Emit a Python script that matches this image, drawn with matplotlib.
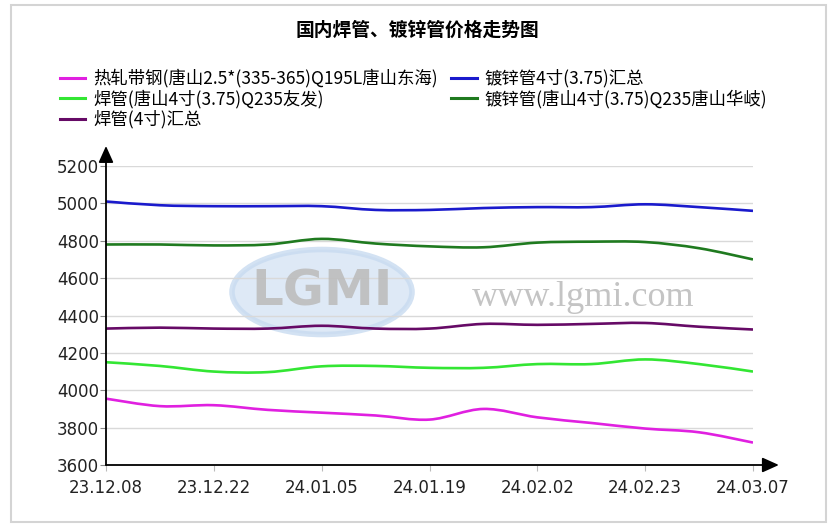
import matplotlib
matplotlib.use("Agg")
import matplotlib.pyplot as plt
from matplotlib.path import Path
from matplotlib.patches import PathPatch, Rectangle, Ellipse
from matplotlib.lines import Line2D

plt.rcParams['font.family'] = ['Noto Sans CJK SC', 'DejaVu Sans']

dates = ['23.12.08', '23.12.15', '23.12.22', '23.12.29', '24.01.05', '24.01.12',
         '24.01.19', '24.01.26', '24.02.02', '24.02.09', '24.02.23', '24.03.01', '24.03.07']
shown = ['23.12.08', '23.12.22', '24.01.05', '24.01.19', '24.02.02', '24.02.23', '24.03.07']

rezha = [3955, 3915, 3920, 3895, 3880, 3865, 3843, 3900, 3855, 3825, 3795, 3775, 3720]
hanguan_ts = [4150, 4130, 4100, 4097, 4128, 4130, 4120, 4120, 4140, 4140, 4165, 4140, 4100]
hanguan_all = [4330, 4335, 4330, 4330, 4345, 4330, 4330, 4355, 4350, 4355, 4360, 4340, 4325]
duxin_all = [5010, 4990, 4985, 4985, 4985, 4965, 4965, 4975, 4980, 4980, 4995, 4980, 4960]
duxin_ts = [4780, 4780, 4775, 4780, 4810, 4785, 4770, 4765, 4790, 4795, 4793, 4760, 4700]

names = ['热轧带钢(唐山2.5*(335-365)Q195L唐山东海)', '焊管(唐山4寸(3.75)Q235友发)', '焊管(4寸)汇总',
         '镀锌管4寸(3.75)汇总', '镀锌管(唐山4寸(3.75)Q235唐山华岐)']
series = [rezha, hanguan_ts, hanguan_all, duxin_all, duxin_ts]
colors = ['#e020e0', '#33e633', '#660a66', '#1a1acc', '#1f7a1f']


def smooth_path(xs, ys):
    # catmull-rom style bezier through the points
    verts = [(xs[0], ys[0])]
    codes = [Path.MOVETO]
    n = len(xs)
    for i in range(n - 1):
        p0 = (xs[max(i - 1, 0)], ys[max(i - 1, 0)])
        p1 = (xs[i], ys[i])
        p2 = (xs[i + 1], ys[i + 1])
        p3 = (xs[min(i + 2, n - 1)], ys[min(i + 2, n - 1)])
        c1 = (p1[0] + (p2[0] - p0[0]) / 6, p1[1] + (p2[1] - p0[1]) / 6)
        c2 = (p2[0] - (p3[0] - p1[0]) / 6, p2[1] - (p3[1] - p1[1]) / 6)
        verts += [c1, c2, p2]
        codes += [Path.CURVE4] * 3
    return Path(verts, codes)


fig = plt.figure(figsize=(8.35, 5.32), dpi=100)
W, H = 835, 532

fig.patches.append(Rectangle((11 / W, 1 - 522 / H), 815 / W, 517 / H, transform=fig.transFigure,
                             fill=False, edgecolor='#d4d4d4', lw=1.5))
fig.text(417 / W, 1 - 30 / H, '国内焊管、镀锌管价格走势图', ha='center', va='center',
         fontsize=13.5, fontweight='bold')

ax = fig.add_axes([106 / W, 1 - 465 / H, 647 / W, 299 / H])
x = list(range(len(dates)))

# watermark
ax.add_patch(Ellipse((322 / W, 1 - 292 / H), 180 / W, 85 / H, transform=fig.transFigure,
                     facecolor='#d6e4f4', edgecolor='#c8dbf0', lw=4, alpha=0.8, zorder=0))
fig.text(322 / W, 1 - 292 / H, 'LGMI', ha='center', va='center', fontsize=36,
         fontweight='bold', color='#bdbdbd', family='DejaVu Sans', zorder=1, alpha=0.9)
fig.text(583 / W, 1 - 297 / H, 'www.lgmi.com', ha='center', va='center', fontsize=26,
         color='#c4c4c4', family='Liberation Serif', zorder=1)

for ys, c in zip(series, colors):
    ax.add_patch(PathPatch(smooth_path(x, ys), facecolor='none', edgecolor=c, lw=1.9, zorder=3))

ax.set_xlim(0, len(dates) - 1)
ax.set_ylim(3600, 5200)
ax.set_yticks(range(3600, 5201, 200))
ax.set_xticks([dates.index(d) for d in shown])
ax.set_xticklabels(shown, family='DejaVu Sans', fontsize=12, color='#222222')
for lab in ax.get_yticklabels():
    lab.set_family('DejaVu Sans')
    lab.set_fontsize(12)
    lab.set_color('#222222')
ax.tick_params(axis='x', length=4, color='#bbbbbb', pad=6)
ax.tick_params(axis='y', length=4, color='#888888', pad=1)
ax.grid(axis='y', color='#d9d9d9', lw=1)
ax.set_axisbelow(True)
ax.patch.set_alpha(0)
for s in ['top', 'right', 'bottom', 'left']:
    ax.spines[s].set_visible(False)

ax.annotate('', xy=(1.04, 0), xytext=(0, 0), xycoords='axes fraction',
            arrowprops=dict(arrowstyle='-|>,head_length=1.0,head_width=0.45', color='black', lw=1.3,
                            shrinkA=0, shrinkB=0), annotation_clip=False)
ax.annotate('', xy=(0, 1.067), xytext=(0, 0), xycoords='axes fraction',
            arrowprops=dict(arrowstyle='-|>,head_length=1.0,head_width=0.45', color='black', lw=1.3,
                            shrinkA=0, shrinkB=0), annotation_clip=False)

handles = [Line2D([], [], color=c, lw=2.2) for c in colors]
fig.legend(handles, names, loc='upper left', bbox_to_anchor=(53 / W, 1 - 62 / H), ncol=2,
           frameon=False, fontsize=12.5, handlelength=1.45, handletextpad=0.45,
           columnspacing=0.8, labelspacing=0.1, borderaxespad=0)

fig.savefig('out.png', dpi=100)
